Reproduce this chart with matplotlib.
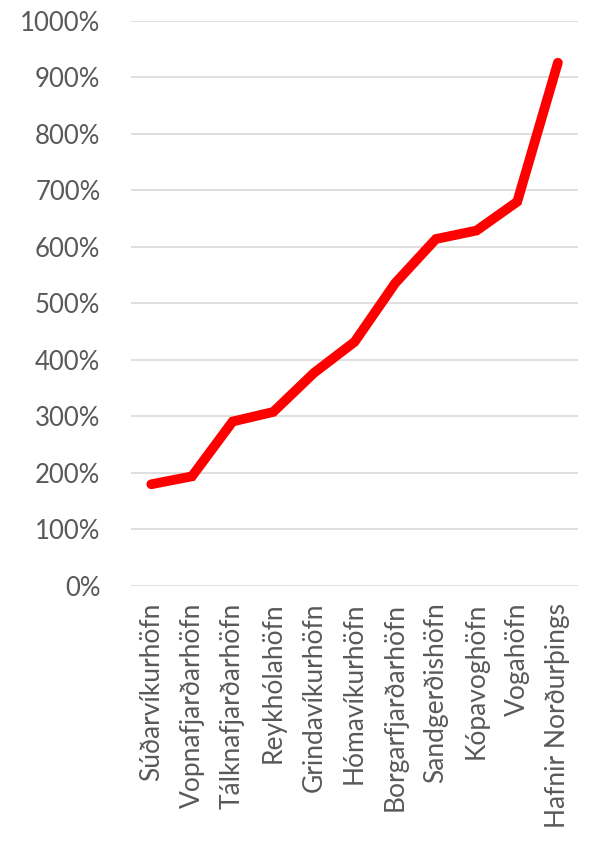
import matplotlib.pyplot as plt
from matplotlib.ticker import FuncFormatter

# harbours and growth values (percent)
harbours = ['Súðarvíkurhöfn', 'Vopnafjarðarhöfn', 'Tálknafjarðarhöfn', 'Reykhólahöfn',
            'Grindavíkurhöfn', 'Hómavíkurhöfn', 'Borgarfjarðarhöfn', 'Sandgerðishöfn',
            'Kópavoghöfn', 'Vogahöfn', 'Hafnir Norðurþings']
growth = [180, 194, 291, 308, 377, 432, 536, 614, 629, 680, 926]

plt.rcParams['font.family'] = ['Lato', 'DejaVu Sans']

fig = plt.figure(figsize=(5.9, 8.64), dpi=100)
ax = fig.add_axes([0.222, 0.3218, 0.758, 0.654])

x = range(len(harbours))
ax.plot(x, growth, color='#ff0000', linewidth=7, solid_capstyle='round', solid_joinstyle='miter', zorder=3)

ax.set_xlim(-0.5, len(harbours) - 0.5)
ax.set_ylim(0, 1000)
ax.set_yticks(range(0, 1001, 100))
ax.yaxis.set_major_formatter(FuncFormatter(lambda v, p: f'{int(v)}%'))
ax.set_xticks(list(x))
ax.set_xticklabels(harbours, rotation=90)

ax.grid(axis='y', color='#d9d9d9', linewidth=1.2)
ax.set_axisbelow(True)
for s in ax.spines.values():
    s.set_visible(False)
ax.tick_params(length=0, colors='#595959')
ax.tick_params(axis='x', labelsize=19, pad=12)
ax.tick_params(axis='y', labelsize=18.5, pad=22)

fig.savefig('out.png', dpi=100)
